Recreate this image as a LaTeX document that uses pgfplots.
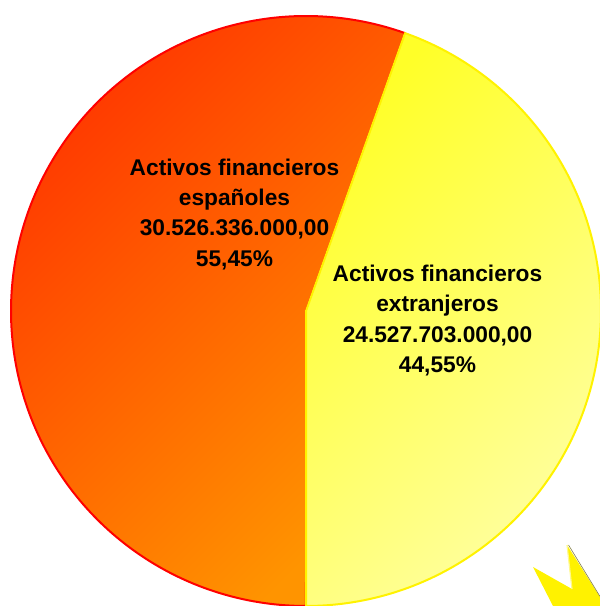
\documentclass[border=0pt]{standalone}
\usepackage{pgfplots}
\usepackage{pgfplotstable}
\pgfplotsset{compat=1.18}
\usepackage{fontspec}
\setmainfont{Liberation Sans}
% values in thousands of millions
\pgfplotstableread{
label value
espanoles 30.526336
extranjeros 24.527703
}\piedata
\definecolor{redor}{HTML}{FF3800}
\definecolor{orend}{HTML}{FF9400}
\definecolor{ylA}{HTML}{FFFF28}
\definecolor{ylB}{HTML}{FFFFA0}
\begin{document}
\begin{tikzpicture}
\pgfplotstablegetelem{0}{value}\of\piedata \let\vA\pgfplotsretval
\pgfplotstablegetelem{1}{value}\of\piedata \let\vB\pgfplotsretval
\pgfmathsetmacro{\angB}{-90+360*\vB/(\vA+\vB)}
\pgfmathsetmacro{\angEnd}{270}
\begin{axis}[x=1bp,y=1bp,xmin=0,xmax=600,ymin=0,ymax=606,
  hide axis, scale only axis, clip=true]
% orange slice (espanoles)
\addplot[domain=\angB:\angEnd, samples=200, smooth,
  top color=redor, bottom color=orend, shading angle=45,
  draw=red, line width=2bp, line join=round]
  ({306+295*cos(x)},{295+295*sin(x)}) -- (axis cs:306,295) -- cycle;
% yellow slice (extranjeros)
\addplot[domain=-90:\angB, samples=200, smooth,
  top color=ylA, bottom color=ylB, shading angle=45,
  draw=yellow, line width=2bp, line join=round]
  ({306+295*cos(x)},{295+295*sin(x)}) -- (axis cs:306,295) -- cycle;
% decorative star fragment
\addplot[fill=yellow, draw=none] coordinates {(533,39) (572,17) (567,61) (600,9) (600,0) (553,0)} -- cycle;
\addplot[draw=black!55!yellow, line width=0.6bp] coordinates {(568.5,61) (600,9.5)};
\addplot[draw=yellow!45!white, line width=1.2bp] coordinates {(567,61) (572,17)};
\end{axis}
\begin{scope}[every node/.style={anchor=base, inner sep=0pt, font=\fontsize{22.8}{26}\selectfont\bfseries}]
\begin{axis}[x=1bp,y=1bp,xmin=0,xmax=600,ymin=0,ymax=606,
  hide axis, scale only axis, clip=false]
\node at (axis cs:234.5,430.5) {Activos financieros};
\node at (axis cs:234.5,400) {españoles};
\node at (axis cs:234.5,370) {30.526.336.000,00};
\node at (axis cs:234.5,339.5) {55,45\%};
\node at (axis cs:437.5,324) {Activos financieros};
\node at (axis cs:437.5,294) {extranjeros};
\node at (axis cs:437.5,263.5) {24.527.703.000,00};
\node at (axis cs:437.5,233.5) {44,55\%};
\end{axis}
\end{scope}
\pgfresetboundingbox
\useasboundingbox (current axis.south west) rectangle (current axis.north east);
\end{tikzpicture}
\end{document}
